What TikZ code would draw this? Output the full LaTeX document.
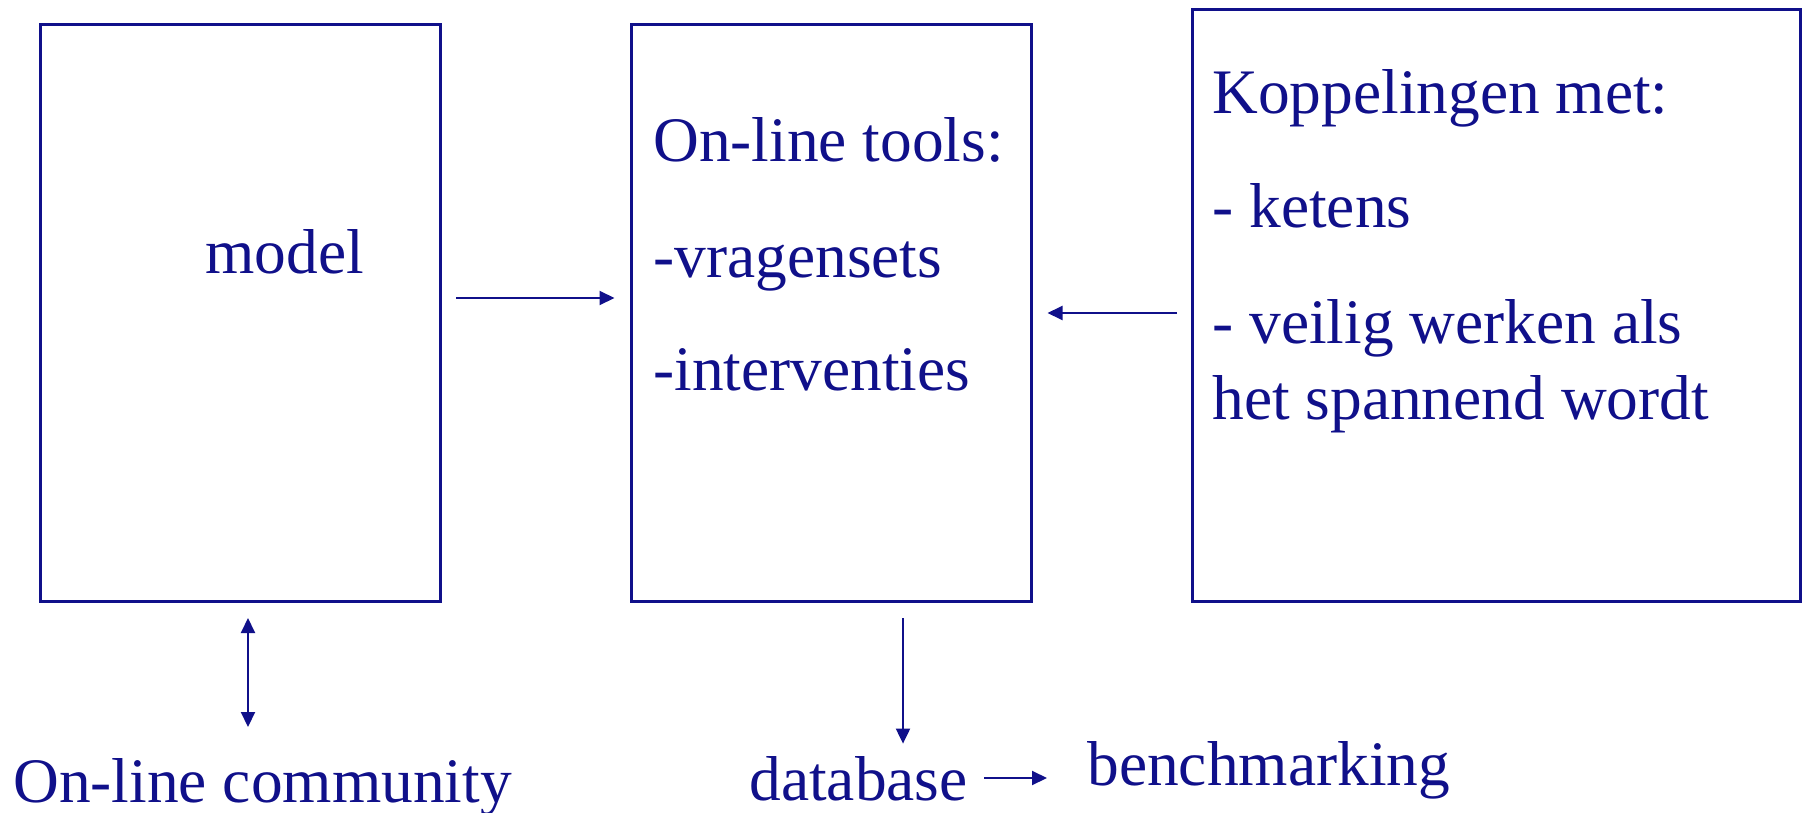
\documentclass[tikz,border=0pt]{standalone}
\usepackage{fontspec}
\setmainfont{Liberation Serif}
\usetikzlibrary{arrows.meta}
\definecolor{navy}{RGB}{16,16,138}
\tikzset{
    box/.style={draw=navy, line width=1.5pt, outer sep=0pt, inner sep=0pt},
    txt/.style={text=navy, inner sep=0pt, anchor=base west, font=\fontsize{31.7pt}{38pt}\selectfont},
    arr/.style={draw=navy, line width=1pt, -{Triangle[length=7.5pt,width=7pt]}},
    dblarr/.style={draw=navy, line width=1pt, {Triangle[length=7.5pt,width=7pt]}-{Triangle[length=7.5pt,width=7pt]}}
}
\begin{document}
\begin{tikzpicture}[x=0.5pt, y=-0.5pt]
    \useasboundingbox (0,0) rectangle (1809,813);

    % Draw boxes
    \node[box, minimum width=200pt, minimum height=288pt] (model) at (240,313) {};
    \node[box, minimum width=200pt, minimum height=288pt] (tools) at (831.5,313) {};
    \node[box, minimum width=304pt, minimum height=295.5pt] (koppel) at (1496,305.5) {};

    % Texts in the boxes
    \node[txt] (modeltxt) at (205,273) {model};
    \node[txt] (toolstxt) at (653,162) {On-line tools:};
    \node[txt] (vragen) at (653,277) {-vragensets};
    \node[txt] (interv) at (653,390) {-interventies};
    \node[txt] (koppeltxt) at (1212,113) {Koppelingen met:};
    \node[txt] (ketens) at (1212,227) {- ketens};
    \node[txt] (veilig) at (1212,343) {- veilig werken als};
    \node[txt] (spannend) at (1212,419) {het spannend wordt};

    % Texts below the boxes
    \node[txt] (comm) at (13,802) {On-line community};
    \node[txt] (db) at (749,800) {database};
    \node[txt] (bench) at (1087,785) {benchmarking};

    % Draw arrows
    \draw[arr, shorten <=8pt, shorten >=8.5pt] ([yshift=7.5pt]model.east) -- ([yshift=7.5pt]tools.west);
    \draw[arr, shorten <=7.5pt, shorten >=8pt] (koppel.west |- tools.east) -- (tools.east);
    \draw[dblarr, shorten <=8.5pt, shorten >=15.3pt] ([xshift=4pt]model.south) -- ([xshift=4pt]model.south |- comm.north);
    \draw[arr, shorten <=8.5pt, shorten >=6pt] ([xshift=35.75pt]tools.south) -- ([xshift=35.75pt]tools.south |- db.north);
    \draw[arr, shorten <=8pt, shorten >=20pt] ([yshift=11pt]db.base east) -- ([yshift=11pt]db.base east -| bench.west);
\end{tikzpicture}
\end{document}
